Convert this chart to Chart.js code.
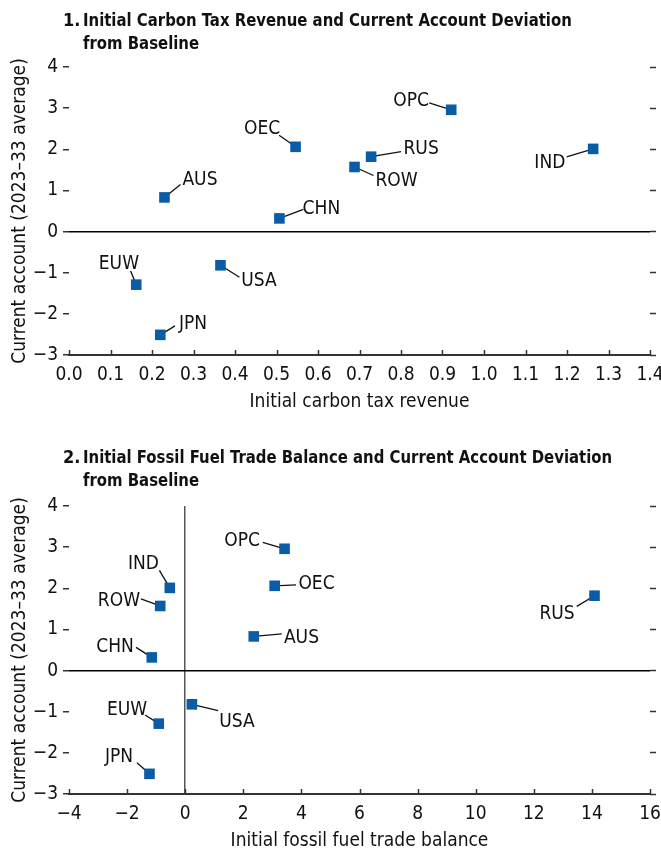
<!DOCTYPE html>
<html>
<head>
<meta charset="utf-8">
<script src="https://cdn.jsdelivr.net/npm/chart.js@4.4.0/dist/chart.umd.min.js"></script>
<style>
  html, body { margin: 0; padding: 0; background: #fff; overflow: hidden; }
  body { width: 661px; height: 848px; position: relative; font-family: 'Liberation Sans Narrow', 'DejaVu Sans Condensed', 'Arial Narrow', sans-serif; }
  .title { position: absolute; font-weight: bold; font-size: 18px; line-height: 23px; color: #111; white-space: nowrap; }
  .title.num { left: 63px; }
  .title.text { left: 83px; transform: scaleX(0.92); transform-origin: 0 0; }
  .panel { position: absolute; left: 0; width: 661px; height: 420px; }
</style>
</head>
<body>
<div class="panel" style="top:0"><canvas id="chart1"></canvas></div>
<div class="panel" style="top:439px"><canvas id="chart2"></canvas></div>
<div class="title num" style="top:8px">1.</div>
<div class="title text" style="top:8px">Initial Carbon Tax Revenue and Current Account Deviation<br>from Baseline</div>
<div class="title num" style="top:445px">2.</div>
<div class="title text" style="top:445px">Initial Fossil Fuel Trade Balance and Current Account Deviation<br>from Baseline</div>
<script>
// ── data ──
const codes = ['AUS', 'OEC', 'OPC', 'RUS', 'ROW', 'IND', 'CHN', 'EUW', 'USA', 'JPN'];
const carbonTaxRevenue = [0.23, 0.546, 0.921, 0.728, 0.688, 1.263, 0.507, 0.162, 0.365, 0.22];
const fossilTradeBalance = [2.36, 3.08, 3.42, 14.09, -0.86, -0.53, -1.15, -0.91, 0.23, -1.23];
const currentAccount = [0.83, 2.06, 2.96, 1.82, 1.57, 2.01, 0.32, -1.29, -0.82, -2.51];

const yRange = { min: -3, max: 4, step: 1 };
const xRange1 = { min: 0, max: 1.4, step: 0.1 };
const xRange2 = { min: -4, max: 16, step: 2 };

const yTitle = 'Current account (2023\u201333 average)';
const xTitle1 = 'Initial carbon tax revenue';
const xTitle2 = 'Initial fossil fuel trade balance';

// label placement: [text dx, text baseline dy, leader end dx, leader end dy] from point centre
const labelPos1 = {
  AUS: [35.5, -12, 16, -13],
  OEC: [-33.5, -12.5, -16.5, -11.5],
  OPC: [-40, -3.3, -22, -7],
  RUS: [50, -2.3, 30, -5],
  ROW: [42, 19.5, 19, 8.5],
  IND: [-43.3, 19.5, -26.5, 8],
  CHN: [42, -4.3, 24, -9],
  EUW: [-17.3, -15.3, -5.6, -13.6],
  USA: [38.5, 20.5, 19, 12],
  JPN: [32.7, -5.7, 14.7, -9],
};
const labelPos2 = {
  AUS: [47.7, 6.7, 28, -2.5],
  OEC: [41.8, 3, 21.3, -1],
  OPC: [-42.5, -3, -21.8, -6.3],
  RUS: [-37.5, 23.7, -17.8, 10.7],
  ROW: [-41.3, -0.3, -19.3, -7],
  IND: [-26.4, -19.2, -10.4, -17.5],
  CHN: [-36.8, -5.3, -15.8, -10],
  EUW: [-31.7, -8.7, -13.7, -8.7],
  USA: [45, 22.3, 26.3, 6.3],
  JPN: [-30.5, -11.7, -12.5, -11],
};

const FONT = "'Liberation Sans Narrow', 'DejaVu Sans Condensed', 'Arial Narrow', sans-serif";
const INK = '#111';
const AXIS = '#333';
const BLUE = '#0b5ca6';

Chart.defaults.font.family = FONT;
Chart.defaults.font.size = 19;
Chart.defaults.color = INK;

const minus = v => (v < 0 ? '\u2212' + Math.abs(v) : String(v));

// ── labels + leader lines, inside ticks on the x axis ──
const pointLabels = {
  id: 'pointLabels',
  beforeDatasetsDraw(chart, args, opts) {
    const ctx = chart.ctx;
    const meta = chart.getDatasetMeta(0);
    ctx.save();
    ctx.strokeStyle = INK;
    ctx.lineWidth = 1.3;
    meta.data.forEach((pt, i) => {
      const p = opts.pos[codes[i]];
      ctx.beginPath();
      ctx.moveTo(pt.x, pt.y);
      ctx.lineTo(pt.x + p[2], pt.y + p[3]);
      ctx.stroke();
    });
    ctx.restore();
  },
  afterDatasetsDraw(chart, args, opts) {
    const ctx = chart.ctx;
    const meta = chart.getDatasetMeta(0);
    ctx.save();
    ctx.font = '19px ' + FONT;
    ctx.fillStyle = INK;
    ctx.textAlign = 'center';
    ctx.textBaseline = 'alphabetic';
    meta.data.forEach((pt, i) => {
      const p = opts.pos[codes[i]];
      ctx.fillText(codes[i], pt.x + p[0], pt.y + p[1]);
    });
    // x ticks point up into the plot
    const xs = chart.scales.x;
    const bottom = chart.chartArea.bottom;
    ctx.strokeStyle = AXIS;
    ctx.lineWidth = 1.5;
    xs.ticks.forEach(t => {
      const x = Math.round(xs.getPixelForValue(t.value)) + 0.5;
      ctx.beginPath();
      ctx.moveTo(x, bottom);
      ctx.lineTo(x, bottom - 5);
      ctx.stroke();
    });
    ctx.restore();
  },
};

function makeChart(id, xs, xr, xTitle, xFmt, pos, xZero) {
  const points = xs.map((x, i) => ({ x, y: currentAccount[i] }));
  return new Chart(document.getElementById(id), {
    type: 'scatter',
    data: {
      datasets: [{
        data: points,
        pointStyle: 'rect',
        pointRadius: 7.5,
        pointHoverRadius: 7.5,
        backgroundColor: BLUE,
        borderWidth: 0,
      }],
    },
    plugins: [pointLabels],
    options: {
      responsive: true,
      maintainAspectRatio: false,
      animation: false,
      events: [],
      layout: { padding: { top: 67, left: 0, right: 5, bottom: 0 } },
      plugins: {
        legend: { display: false },
        tooltip: { enabled: false },
        pointLabels: { pos },
      },
      scales: {
        x: {
          type: 'linear',
          position: 'bottom',
          min: xr.min,
          max: xr.max,
          ticks: { stepSize: xr.step, autoSkip: false, maxRotation: 0, padding: 9, callback: xFmt },
          grid: {
            drawTicks: false,
            lineWidth: 1.5,
            color: c => (xZero && c.tick && c.tick.value === 0 ? '#555' : 'rgba(0,0,0,0)'),
          },
          border: { display: true, color: AXIS, width: 2 },
          title: { display: true, text: xTitle, padding: { top: 0, bottom: 7 } },
          afterFit(s) { s.height = 65; s.paddingLeft = 0; s.paddingRight = 0; },
        },
        y: {
          type: 'linear',
          position: 'left',
          min: yRange.min,
          max: yRange.max,
          ticks: { stepSize: yRange.step, padding: 5, callback: minus },
          grid: {
            drawTicks: true,
            tickLength: 6,
            tickWidth: 1.5,
            tickColor: AXIS,
            lineWidth: 1.5,
            color: c => (c.tick && c.tick.value === 0 ? '#000' : 'rgba(0,0,0,0)'),
          },
          border: { display: false },
          title: { display: true, text: yTitle, padding: { top: 9, bottom: 0 } },
          afterFit(s) { s.width = 69; s.paddingTop = 0; s.paddingBottom = 0; },
        },
        y2: {
          type: 'linear',
          position: 'right',
          min: yRange.min,
          max: yRange.max,
          ticks: { stepSize: yRange.step, display: false },
          grid: { drawOnChartArea: false, tickLength: 6, tickWidth: 1.5, tickColor: AXIS },
          border: { display: false },
          afterFit(s) { s.width = 6; s.paddingTop = 0; s.paddingBottom = 0; },
        },
      },
    },
  });
}

makeChart('chart1', carbonTaxRevenue, xRange1, xTitle1, v => v.toFixed(1), labelPos1, false);
makeChart('chart2', fossilTradeBalance, xRange2, xTitle2, minus, labelPos2, true);
</script>
</body>
</html>
